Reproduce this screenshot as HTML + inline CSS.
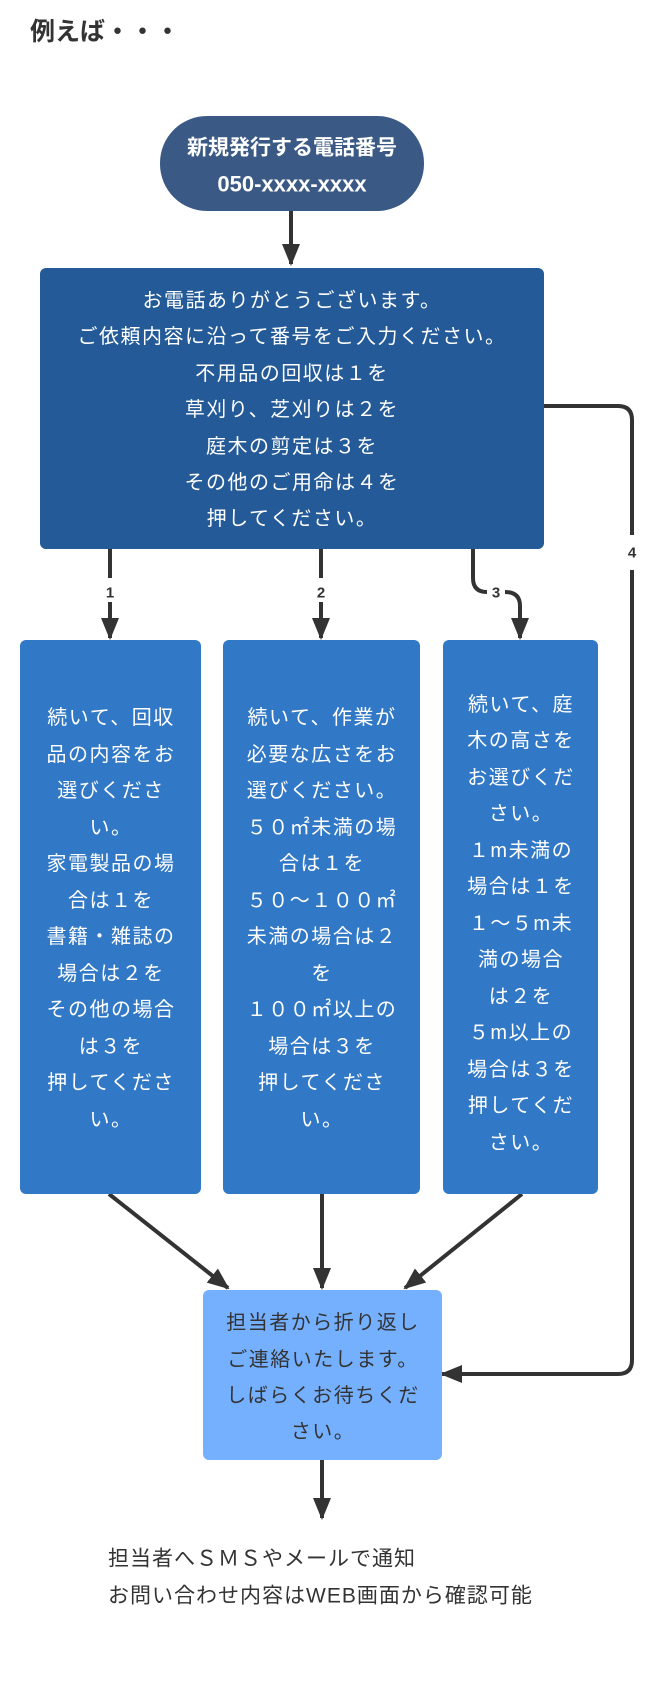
<!DOCTYPE html>
<html><head><meta charset="utf-8"><style>
html,body{margin:0;padding:0;background:#fff;}
svg{display:block;}
text{font-family:"Liberation Sans","Noto Sans CJK JP",sans-serif;}
.w{fill:#fff;font-size:20px;letter-spacing:1.5px;}
.d{fill:#333;font-size:20px;letter-spacing:1.5px;}
.l{fill:#333;font-size:15px;font-weight:bold;}
</style></head><body>
<svg width="667" height="1692" viewBox="0 0 667 1692" xmlns="http://www.w3.org/2000/svg">
<defs>
<marker id="b" markerWidth="22" markerHeight="22" refX="20" refY="11" orient="auto" markerUnits="userSpaceOnUse"><path d="M0,2 L22,11 L0,20 z" fill="#333"/></marker></defs>
<text x="30" y="32" dominant-baseline="central" style="font-size:25px;font-weight:bold;fill:#333">例えば・・・</text>
<g stroke="#333" stroke-width="4" fill="none">
<path d="M291 210 V264" marker-end="url(#b)"/>
<path d="M110 546 V578"/>
<path d="M110 602 V638" marker-end="url(#b)"/>
<path d="M321 546 V578"/>
<path d="M321 602 V638" marker-end="url(#b)"/>
<path d="M473 546 V578 Q473 592 487 592 M505 592 Q520 592 520 606 V638" marker-end="url(#b)"/>
<path d="M540 406 H618 Q632 406 632 420 V535 M632 570 V1360 Q632 1374 618 1374 H442" marker-end="url(#b)"/>
<path d="M109 1194 L228 1288" marker-end="url(#b)"/>
<path d="M322 1194 V1288" marker-end="url(#b)"/>
<path d="M522 1194 L405 1288" marker-end="url(#b)"/>
<path d="M322 1458 V1518" marker-end="url(#b)"/>
</g>
<text class="l" x="110" y="593" text-anchor="middle" dominant-baseline="central">1</text>
<text class="l" x="321" y="593" text-anchor="middle" dominant-baseline="central">2</text>
<text class="l" x="496" y="593" text-anchor="middle" dominant-baseline="central">3</text>
<text class="l" x="632" y="553" text-anchor="middle" dominant-baseline="central">4</text>
<rect x="160" y="116" width="264" height="95" rx="47" fill="#3a5a85"/>
<text x="292" y="148" text-anchor="middle" dominant-baseline="central" style="fill:#fff;font-size:21px;font-weight:bold">新規発行する電話番号</text>
<text x="292" y="184" text-anchor="middle" dominant-baseline="central" style="fill:#fff;font-size:22px;font-weight:bold">050-xxxx-xxxx</text>
<rect x="40" y="268" width="504" height="281" rx="6" fill="#235a97"/>
<g class="w" text-anchor="middle" dominant-baseline="central">
<text x="292" y="301">お電話ありがとうございます。</text>
<text x="292" y="337">ご依頼内容に沿って番号をご入力ください。</text>
<text x="292" y="374">不用品の回収は１を</text>
<text x="292" y="410">草刈り、芝刈りは２を</text>
<text x="292" y="447">庭木の剪定は３を</text>
<text x="292" y="483">その他のご用命は４を</text>
<text x="292" y="519">押してください。</text>
</g>
<rect x="20" y="640" width="181" height="554" rx="6" fill="#3178c6"/>
<rect x="223" y="640" width="197" height="554" rx="6" fill="#3178c6"/>
<rect x="443" y="640" width="155" height="554" rx="6" fill="#3178c6"/>
<g class="w" text-anchor="middle" dominant-baseline="central">
<text x="111" y="718">続いて、回収</text><text x="111" y="755">品の内容をお</text><text x="111" y="791">選びくださ</text><text x="111" y="828">い。</text><text x="111" y="864">家電製品の場</text><text x="111" y="901">合は１を</text><text x="111" y="937">書籍・雑誌の</text><text x="111" y="974">場合は２を</text><text x="111" y="1010">その他の場合</text><text x="111" y="1047">は３を</text><text x="111" y="1083">押してくださ</text><text x="111" y="1120">い。</text>
<text x="322" y="718">続いて、作業が</text><text x="322" y="755">必要な広さをお</text><text x="322" y="791">選びください。</text><text x="322" y="828">５０㎡未満の場</text><text x="322" y="864">合は１を</text><text x="322" y="901">５０〜１００㎡</text><text x="322" y="937">未満の場合は２</text><text x="322" y="974">を</text><text x="322" y="1010">１００㎡以上の</text><text x="322" y="1047">場合は３を</text><text x="322" y="1083">押してくださ</text><text x="322" y="1120">い。</text>
<text x="521" y="705">続いて、庭</text><text x="521" y="741">木の高さを</text><text x="521" y="778">お選びくだ</text><text x="521" y="814">さい。</text><text x="521" y="851">１m未満の</text><text x="521" y="887">場合は１を</text><text x="521" y="924">１〜５m未</text><text x="521" y="960">満の場合</text><text x="521" y="997">は２を</text><text x="521" y="1033">５m以上の</text><text x="521" y="1070">場合は３を</text><text x="521" y="1106">押してくだ</text><text x="521" y="1143">さい。</text>
</g>
<rect x="203" y="1290" width="239" height="170" rx="6" fill="#75b0ff"/>
<g class="d" text-anchor="middle" dominant-baseline="central">
<text x="323" y="1323">担当者から折り返し</text>
<text x="323" y="1360">ご連絡いたします。</text>
<text x="323" y="1396">しばらくお待ちくだ</text>
<text x="323" y="1432">さい。</text>
</g>
<text class="d" x="108" y="1559" dominant-baseline="central" style="font-size:21px;letter-spacing:1px">担当者へＳＭＳやメールで通知</text>
<text class="d" x="108" y="1596" dominant-baseline="central" style="font-size:21px;letter-spacing:1px">お問い合わせ内容はWEB画面から確認可能</text>
</svg>
</body></html>
